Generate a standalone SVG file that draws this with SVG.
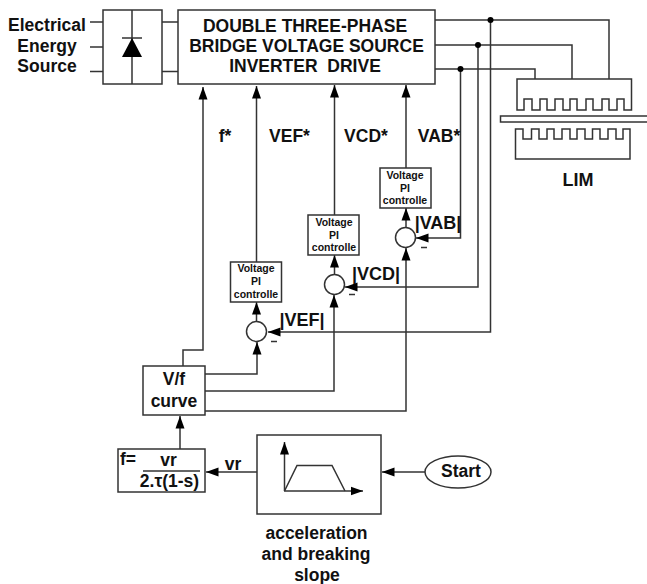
<svg xmlns="http://www.w3.org/2000/svg" width="647" height="584" viewBox="0 0 647 584">
<defs>
<marker id="a" markerUnits="userSpaceOnUse" markerWidth="14" markerHeight="10" refX="12.500" refY="5" orient="auto"><path d="M0 0.500L12.500 5L0 9.500Z" fill="#000"/></marker>
</defs>
<style>
text{font-family:"Liberation Sans",Arial,sans-serif;font-weight:bold;fill:#111;text-anchor:middle}
.b{fill:#fff;stroke:#333;stroke-width:1.5}
.l{fill:none;stroke:#333;stroke-width:1.5}
.t17{font-size:17.500px}
.t10{font-size:10.500px}
.m{font-size:18px}
</style>
<rect width="647" height="584" fill="#fff"/>
<g id="connectors" class="l">
<path d="M90 22H103M90 47H103M90 71.500H103M162 22H178M162 71.500H178"/>
<path d="M435 20H609V79M435 45H572V79M435 69H535V79"/>
<path d="M490.500 20V332H268" marker-end="url(#a)"/>
<path d="M478 45V287H345" marker-end="url(#a)"/>
<path d="M460.500 69V238H416" marker-end="url(#a)"/>
<path d="M183 366V350H203V87" marker-end="url(#a)"/>
<path d="M256.500 262V86" marker-end="url(#a)"/>
<path d="M334.500 215V85" marker-end="url(#a)"/>
<path d="M406 168V85" marker-end="url(#a)"/>
<path d="M256.500 321V302" marker-end="url(#a)"/>
<path d="M334.500 274V255" marker-end="url(#a)"/>
<path d="M406 227V208" marker-end="url(#a)"/>
<path d="M205 374H257V342" marker-end="url(#a)"/>
<path d="M205 391H334V295" marker-end="url(#a)"/>
<path d="M205 411H406V248" marker-end="url(#a)"/>
<path d="M180 449V416" marker-end="url(#a)"/>
<path d="M257 472H206" marker-end="url(#a)"/>
<path d="M425 472H382" marker-end="url(#a)"/>
<g fill="#000" stroke="none"><circle cx="490.500" cy="20" r="3"/><circle cx="478" cy="45" r="3"/><circle cx="460.500" cy="69" r="3"/></g>
</g>
<g id="source"><text class="t17" x="47" y="31">Electrical</text><text class="t17" x="47" y="52">Energy</text><text class="t17" x="47" y="72">Source</text></g>
<g id="rectifier"><rect class="b" x="103" y="10" width="59" height="74"/><path class="l" d="M132 10V84M122 38H142"/><path d="M132 38L142 57H122Z" fill="#000"/></g>
<g id="inverter"><rect class="b" x="178" y="10" width="257" height="74"/><text class="t17" x="305" y="32">DOUBLE THREE-PHASE</text><text class="t17" x="306.500" y="52">BRIDGE VOLTAGE SOURCE</text><text class="t17" x="305" y="72" xml:space="preserve">INVERTER  DRIVE</text></g>
<g id="lim"><path class="l" d="M517 79V110H524V99H532V110H540V99H547V110H555V99H563V110H570V99H577V110H586V99H593V110H602V99H609V110H617V99H624V110H631.500V79Z"/><rect class="b" x="500.500" y="116" width="148" height="6"/><path class="l" d="M515.500 129H523V139H531.500V129H539V139H547V129H554V139H562V129H570V139H577V129H585V139H592.500V129H600V139H608V129H616V139H623V129H630V159H515.500Z"/><text x="578" y="186" style="font-size:18px">LIM</text></g>
<g id="labels"><text class="t17" x="225" y="142">f*</text><text class="t17" x="289.500" y="142">VEF*</text><text class="t17" x="366" y="142">VCD*</text><text class="t17" x="439" y="142">VAB*</text></g>
<g id="pi1"><rect class="b" x="230.500" y="262" width="51" height="40"/><text class="t10" x="256" y="272">Voltage</text><text class="t10" x="256" y="285">PI</text><text class="t10" x="256" y="298">controlle</text></g>
<g id="pi2"><rect class="b" x="308" y="215" width="51" height="40"/><text class="t10" x="334" y="226">Voltage</text><text class="t10" x="334" y="239">PI</text><text class="t10" x="334" y="251">controlle</text></g>
<g id="pi3"><rect class="b" x="380" y="168" width="51" height="40"/><text class="t10" x="405" y="179">Voltage</text><text class="t10" x="405" y="192">PI</text><text class="t10" x="405" y="204">controlle</text></g>
<g id="sum1"><circle class="b" cx="256.500" cy="331.500" r="10"/><path class="l" d="M271 341.500H277"/><text class="m" x="302" y="326">|VEF|</text></g>
<g id="sum2"><circle class="b" cx="334.500" cy="284.500" r="10"/><path class="l" d="M349 294.500H355"/><text class="m" x="376" y="280">|VCD|</text></g>
<g id="sum3"><circle class="b" cx="405.500" cy="237.500" r="10"/><path class="l" d="M421 247.500H427"/><text class="m" x="438" y="229">|VAB|</text></g>
<g id="vf"><rect class="b" x="143" y="366" width="62" height="49"/><text class="t17" x="174" y="385">V/f</text><text class="t17" x="174" y="406.500">curve</text></g>
<g id="formula"><rect class="b" x="118" y="449" width="87" height="43"/><text class="t17" x="128" y="465">f=</text><text class="t17" x="168.500" y="466">vr</text><path class="l" d="M143 471H200"/><text class="t17" x="169.500" y="487">2.τ(1-s)</text></g>
<g id="vr"><text class="t17" x="233" y="470">vr</text></g>
<g id="ramp"><rect class="b" x="257" y="435" width="124" height="79"/><path class="l" d="M284.500 491V442" marker-end="url(#a)"/><path class="l" d="M284 491H363" marker-end="url(#a)"/><path class="l" d="M284.500 491L297 465.500H332L345 491"/><text class="t17" x="316.500" y="539">acceleration</text><text class="t17" x="316" y="560">and breaking</text><text class="t17" x="317" y="581">slope</text></g>
<g id="start"><ellipse class="b" cx="458" cy="472" rx="33" ry="16"/><text class="t17" x="461" y="477">Start</text></g>
</svg>
